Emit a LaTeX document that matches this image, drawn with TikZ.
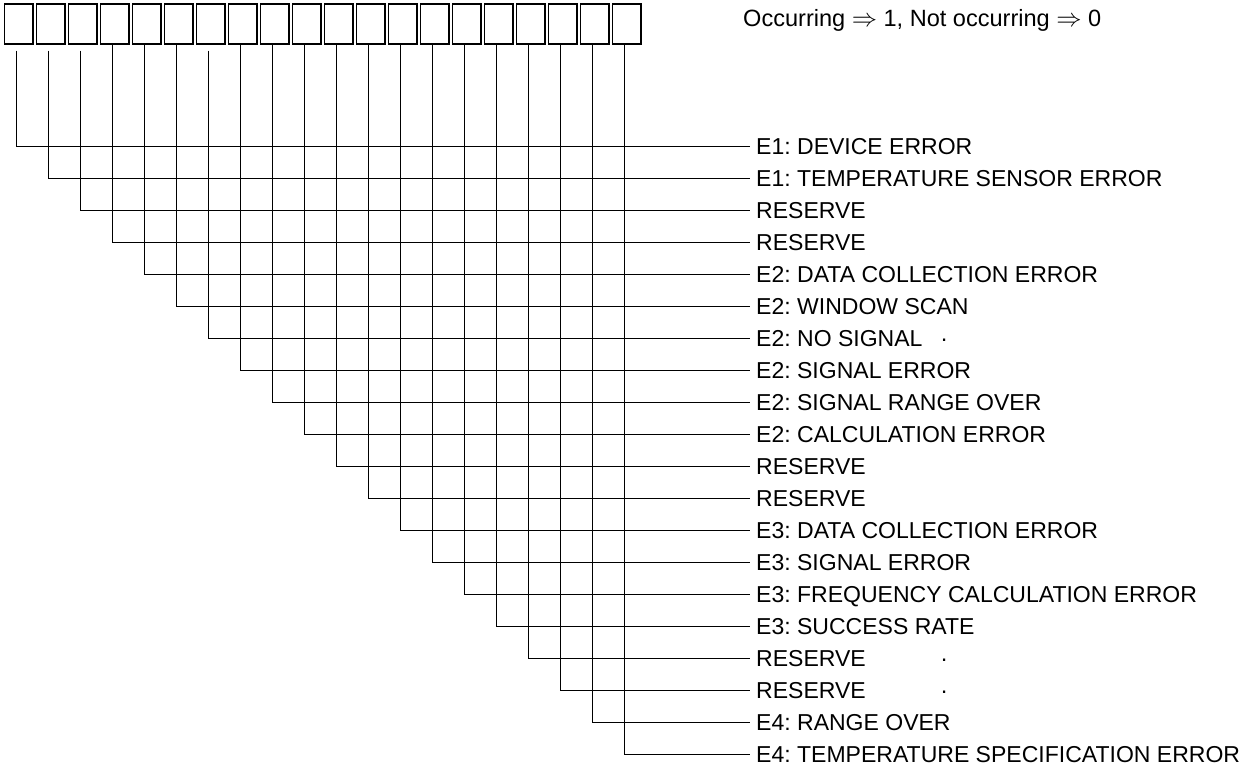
\documentclass[tikz,border=0pt]{standalone}
\usepackage{fontspec}
\setmainfont{Liberation Sans}
\usetikzlibrary{positioning}

\tikzset{
	bit/.style={draw, line width=0.75pt, minimum width=0.57cm, minimum height=0.8cm, inner sep=0pt},
	flag/.style={anchor=west, text height=9.4pt, text depth=0pt, font=\fontsize{13.1}{15}\selectfont},
	wire/.style={line width=0.7pt}
}

\begin{document}
\frenchspacing
\begin{tikzpicture}[x=0.02cm, y=-0.02cm]
	\useasboundingbox (0,0) rectangle (1253,769);
	
	% the status bits
	\foreach \i in {1,...,20}
		\node[bit] (b\i) at ({18.6+32*(\i-1)},24) {};
	
	\node[anchor=base west, font=\fontsize{13.4}{15}\selectfont] (key) at (737,26.7)
		{Occurring $\Rightarrow$ 1, Not occurring $\Rightarrow$ 0};
	
	% one error per bit
	\foreach \txt [count=\i] in {
		E1: DEVICE ERROR,
		E1: TEMPERATURE SENSOR ERROR,
		RESERVE,
		RESERVE,
		E2: DATA COLLECTION ERROR,
		E2: WINDOW SCAN,
		E2: NO SIGNAL,
		E2: SIGNAL ERROR,
		E2: SIGNAL RANGE OVER,
		E2: CALCULATION ERROR,
		RESERVE,
		RESERVE,
		E3: DATA COLLECTION ERROR,
		E3: SIGNAL ERROR,
		E3: FREQUENCY CALCULATION ERROR,
		E3: SUCCESS RATE,
		RESERVE,
		RESERVE,
		E4: RANGE OVER,
		E4: TEMPERATURE SPECIFICATION ERROR}
		\node[flag] (l\i) at (750,{146.7+32*(\i-1)}) {\txt};
	
	% stray dots
	\foreach \r in {7,17,18}
		\node[flag, inner sep=0pt] (dot\r) at (940,{146.7+32*(\r-1)}) {·};
	
	% bit -> error
	\foreach \i/\g in {1/3.4,2/3.4,3/3.4,4/0,5/0,6/0,7/3.4,8/0,9/0,10/0,
			11/0,12/0,13/0,14/0,15/0,16/0,17/0,18/0,19/0,20/0}
		\draw[wire] ([xshift=-1pt,yshift=-\g pt]b\i.south) |- (l\i.west);
	
\end{tikzpicture}
\end{document}
